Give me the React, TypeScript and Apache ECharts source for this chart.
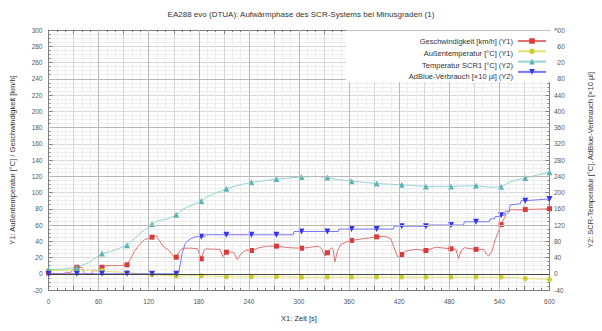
import React, { useEffect, useRef } from "react";
import * as echarts from "echarts";

const FONT = "'Liberation Sans', Arial, sans-serif";

const titleText = "EA288 evo (DTUA): Aufwärmphase des SCR-Systems bei Minusgraden (1)";
const seriesNames = [
  "Geschwindigkeit [km/h] (Y1)",
  "Außentemperatur [°C] (Y1)",
  "Temperatur SCR1 [°C] (Y2)",
  "AdBlue-Verbrauch [×10 µl] (Y2)",
];

// time stamps where markers are drawn
const markerTimes = [0, 34, 64, 94, 124, 153, 183, 213, 243, 273, 303, 334, 363, 393, 423, 452, 482, 512, 542, 571, 600];

// Geschwindigkeit (Y1)
const speedT = [0, 10, 18, 22, 26, 29, 31, 34, 40, 43, 44, 52, 54, 57, 60, 64, 70, 85, 94, 98, 103, 108, 115, 124, 129, 132, 137, 143, 147, 150, 153, 157, 161, 170, 178, 181, 183, 186, 188, 205, 209, 213, 217, 222, 226, 230, 236, 243, 252, 261, 273, 289, 303, 313, 323, 327, 331, 334, 339, 341, 343, 346, 350, 356, 363, 376, 393, 404, 410, 414, 418, 423, 427, 439, 452, 464, 470, 482, 488, 491, 494, 498, 512, 521, 525, 527, 531, 535, 542, 548, 554, 562, 571, 585, 600];
const speedV = [1, 0, 0, 2, 1, 4.5, 7, 8, 7.5, 1, 0, 0, 5, 3, 5, 8, 10, 10, 11, 17.6, 27.7, 34.7, 42, 45, 47, 42, 34, 30, 25, 21, 20.4, 27.7, 31.4, 31.5, 31, 23.7, 18.4, 28, 30.6, 30, 21, 26.5, 27, 26, 17.5, 24, 29, 28.6, 32, 34, 34, 32, 31.4, 32.5, 34, 31, 21.6, 25.8, 32, 30, 14.3, 28, 36, 38.8, 41, 43, 45.4, 46, 43, 32, 21, 23.7, 27.7, 30, 28.6, 32.7, 32, 30.7, 30, 18.8, 28, 32, 30, 30, 23.7, 21.6, 27.7, 42, 60.5, 72.8, 79, 78.6, 79, 79.5, 80];

// Außentemperatur (Y1)
const outT = [0, 34, 64, 75, 94, 110, 124, 153, 183, 213, 243, 273, 290, 303, 334, 363, 393, 423, 452, 482, 512, 542, 555, 571, 600];
const outV = [4, 4.4, 4, 2.5, 1.6, 0, -1.2, -2.9, -2.5, -3.7, -3.7, -3.7, -4, -4.3, -4.1, -4.1, -4.1, -4.1, -4.1, -4.1, -4.1, -4.1, -4.5, -5.8, -7];

// Temperatur SCR1 (Y2)
const scrT = [0, 20, 34, 48, 64, 75, 94, 110, 124, 131, 141, 153, 162, 183, 190, 213, 225, 243, 261, 273, 303, 320, 334, 345, 363, 393, 423, 452, 482, 512, 527, 542, 554, 571, 600];
const scrV = [10, 12, 16, 27, 50, 55, 70, 100, 122, 131, 134, 145, 160, 179, 190, 209, 217, 225, 230, 233, 238, 240, 237, 232, 228, 222, 219, 215, 215, 217, 213, 214, 227, 236, 250];

// AdBlue-Verbrauch (Y2)
const adT = [0, 34, 64, 94, 124, 153, 156, 160, 164, 170, 176, 183, 187, 188, 213, 243, 273, 293, 294, 303, 334, 347, 348, 363, 393, 413, 414, 423, 452, 455, 456, 482, 497, 498, 512, 528, 529, 534, 535, 539, 540, 542, 546, 547, 552, 553, 565, 566, 571, 600];
const adV = [0, 0, 0, 0, 0, 0, 2, 50, 76, 86, 91, 91, 91, 96, 96, 96, 96, 96, 104, 104, 104, 104, 110, 110, 110, 110, 117, 117, 117, 117, 120, 120, 120, 128, 128, 128, 135, 135, 141, 141, 144, 144, 144, 154, 154, 170, 172, 180, 180, 184];

// emphasised grid lines
const darkXLines = [60, 120, 180, 240, 300, 360, 420, 480, 540];
const darkYLines = [60, 120, 180, 240];

function build(ts: number[], vs: number[]) {
  return ts.map((t, i) =>
    markerTimes.includes(t) ? { value: [t, vs[i]] } : { value: [t, vs[i]], symbol: "none" }
  );
}

export default function App() {
  const ref = useRef<HTMLDivElement>(null);
  useEffect(() => {
    if (!ref.current) return;
    const chart = echarts.init(ref.current, undefined, { renderer: "svg" });
    const axisGray = "#808080";
    const labelStyle = { fontSize: 6.5, color: "#555", fontFamily: FONT };
    const nameStyle = { fontSize: 7.5, color: "#333", fontFamily: FONT };
    // legend layout: icons via legend, texts via graphic
    const legendTop = 38.2;
    const rowPitch = 11.7;
    const lineSeries = (
      name: string,
      data: any[],
      yIdx: number,
      symbol: string,
      size: number,
      markColor: string,
      lineColor: string,
      rotate = 0
    ) => ({
      type: "line",
      name,
      data,
      xAxisIndex: 0,
      yAxisIndex: yIdx,
      symbol,
      symbolSize: size,
      symbolRotate: rotate,
      showAllSymbol: true,
      z: 3,
      itemStyle: { color: markColor },
      lineStyle: { color: lineColor, width: 1 },
      emphasis: { disabled: true },
      silent: true,
    });
    chart.setOption({
      animation: false,
      backgroundColor: "#ffffff",
      textStyle: { fontFamily: FONT },
      title: {
        text: titleText,
        left: "center",
        top: 10,
        padding: 0,
        textStyle: { fontSize: 8, fontWeight: "normal", color: "#333", fontFamily: FONT },
      },
      legend: {
        data: seriesNames,
        orient: "vertical",
        right: 55,
        top: legendTop,
        align: "right",
        itemWidth: 28,
        itemHeight: 7,
        itemGap: rowPitch - 7,
        padding: 0,
        formatter: () => "",
        textStyle: { fontSize: 7, lineHeight: 7 },
        selectedMode: false,
        z: 60,
      },
      graphic: [
        {
          type: "rect",
          z: 50,
          silent: true,
          shape: { x: 346, y: 30.5, width: 211, height: 51.5 },
          style: { fill: "#ffffff", stroke: "#ffffff", lineWidth: 0 },
        },
        ...seriesNames.map((n, i) => ({
          type: "text",
          z: 70,
          silent: true,
          x: 513,
          y: legendTop + 3.5 + i * rowPitch,
          style: {
            text: n,
            align: "right",
            verticalAlign: "middle",
            fontSize: 7.5,
            fontFamily: FONT,
            fill: "#333333",
          },
        })),
      ],
      grid: { left: 48, right: 44.5, top: 30, bottom: 41 },
      xAxis: [
        {
          type: "value",
          position: "bottom",
          min: 0,
          max: 600,
          interval: 30,
          name: "X1: Zeit [s]",
          nameLocation: "middle",
          nameGap: 24,
          nameTextStyle: nameStyle,
          axisLine: { show: true, onZero: false, lineStyle: { color: axisGray } },
          axisTick: { show: true, inside: true, length: 4, lineStyle: { color: axisGray } },
          minorTick: { show: true, splitNumber: 3, length: 2, lineStyle: { color: axisGray } },
          axisLabel: {
            ...labelStyle,
            margin: 8,
            formatter: (v: number) => (v % 60 === 0 ? String(v) : ""),
          },
          splitLine: { show: true, lineStyle: { color: "#d6d6d6", width: 1 } },
          minorSplitLine: { show: true, lineStyle: { color: "#ededed", width: 1 } },
        },
        {
          type: "value",
          position: "top",
          min: 0,
          max: 600,
          interval: 30,
          axisLine: { show: true, onZero: false, lineStyle: { color: axisGray } },
          axisTick: { show: true, inside: true, length: 4, lineStyle: { color: axisGray } },
          minorTick: { show: true, splitNumber: 3, length: 2, lineStyle: { color: axisGray } },
          axisLabel: { show: false },
          splitLine: { show: false },
        },
      ],
      yAxis: [
        {
          type: "value",
          position: "left",
          min: -20,
          max: 300,
          interval: 20,
          name: "Y1: Außentemperatur [°C] / Geschwindigkeit [km/h]",
          nameLocation: "middle",
          nameGap: 32.5,
          nameTextStyle: nameStyle,
          axisLine: { show: true, onZero: false, lineStyle: { color: axisGray } },
          axisTick: { show: true, inside: true, length: 4, lineStyle: { color: axisGray } },
          minorTick: { show: true, splitNumber: 4, length: 2, lineStyle: { color: axisGray } },
          axisLabel: { ...labelStyle, margin: 6 },
          splitLine: { show: true, lineStyle: { color: "#d6d6d6", width: 1 } },
          minorSplitLine: { show: true, lineStyle: { color: "#ededed", width: 1 } },
        },
        {
          type: "value",
          position: "right",
          min: -40,
          max: 600,
          interval: 40,
          name: "Y2: SCR-Temperatur [°C], AdBlue-Verbrauch [×10 µl]",
          nameLocation: "middle",
          nameGap: 36.5,
          nameTextStyle: nameStyle,
          axisLine: { show: true, onZero: false, lineStyle: { color: axisGray } },
          axisTick: { show: true, inside: true, length: 4, lineStyle: { color: axisGray } },
          minorTick: { show: true, splitNumber: 4, length: 2, lineStyle: { color: axisGray } },
          axisLabel: { ...labelStyle, margin: 4.5 },
          splitLine: { show: false },
        },
      ],
      series: [
        {
          type: "line",
          name: "gridlines",
          data: [],
          xAxisIndex: 0,
          yAxisIndex: 0,
          z: 1,
          silent: true,
          markLine: {
            silent: true,
            symbol: ["none", "none"],
            label: { show: false },
            emphasis: { disabled: true },
            lineStyle: { color: "#b8b8b8", width: 1, type: "solid" },
            data: [
              ...darkXLines.map((x) => ({ xAxis: x })),
              ...darkYLines.map((y) => ({ yAxis: y })),
              { yAxis: 0, lineStyle: { color: "#444444", width: 1, type: "solid" } },
            ],
          },
        },
        lineSeries(seriesNames[0], build(speedT, speedV), 0, "rect", 5, "#d93b3b", "#e47272"),
        lineSeries(seriesNames[1], build(outT, outV), 0, "circle", 5, "#cccc2e", "#e0e070"),
        lineSeries(seriesNames[2], build(scrT, scrV), 1, "triangle", 6, "#5fb3b3", "#95d2d2"),
        lineSeries(seriesNames[3], build(adT, adV), 1, "triangle", 6, "#3434f5", "#7777ff", 180),
      ],
    });
    return () => chart.dispose();
  }, []);
  return (
    <div
      ref={ref}
      style={{ position: "absolute", left: 0, top: 0, width: 602, height: 331, background: "#fff" }}
    />
  );
}
